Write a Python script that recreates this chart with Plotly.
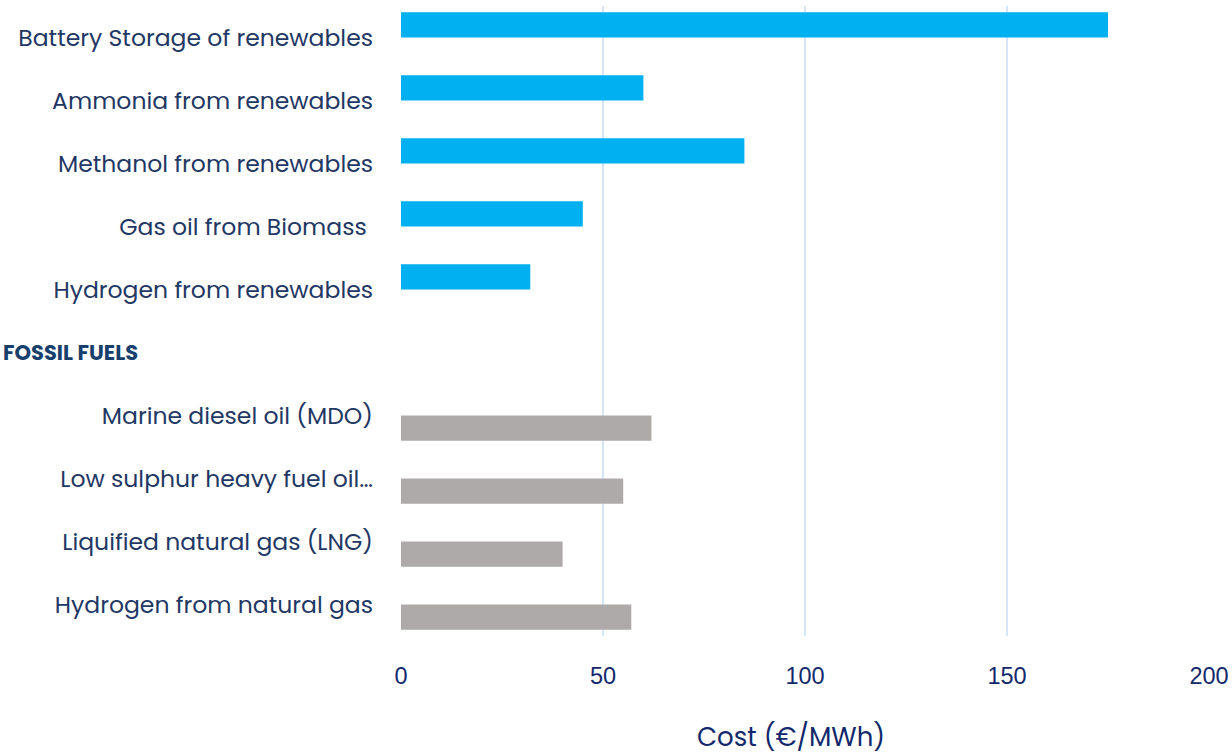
import plotly.graph_objects as go

categories = [
    "Battery Storage of renewables",
    "Ammonia from renewables",
    "Methanol from renewables",
    "Gas oil from Biomass\u00a0",
    "Hydrogen from renewables",
    " ",
    "Marine diesel oil (MDO)",
    "Low sulphur heavy fuel oil…",
    "Liquified natural gas (LNG)",
    "Hydrogen from natural gas",
]
renewable_costs = [175, 60, 85, 45, 32, None, None, None, None, None]
fossil_costs = [None, None, None, None, None, None, 62, 55, 40, 57]
x_ticks = [0, 50, 100, 150, 200]
group_label = "FOSSIL FUELS"
x_title = "Cost (€/MWh)"

W, H = 1232, 755
L, R, T, B = 401, 23, 6, 119
PW, PH = W - L - R, H - T - B

fig = go.Figure()
fig.add_trace(go.Bar(y=categories, x=renewable_costs, orientation="h",
                     marker=dict(color="#00B0F0", line=dict(width=0)),
                     name="Renewables", showlegend=False, hoverinfo="x+y"))
fig.add_trace(go.Bar(y=categories, x=fossil_costs, orientation="h",
                     marker=dict(color="#AEAAAA", line=dict(width=0)),
                     name="Fossil", showlegend=False, hoverinfo="x+y"))

fig.update_layout(
    width=W, height=H,
    margin=dict(l=L, r=R, t=T, b=B, pad=0, autoexpand=False),
    barmode="group", bargap=0.2, bargroupgap=0,
    plot_bgcolor="white", paper_bgcolor="white",
    font=dict(family="Poppins, Lato, sans-serif", color="#1F3864"),
    xaxis=dict(range=[0, 200], tickvals=x_ticks, showgrid=True,
               gridcolor="#D6E6F6", gridwidth=2, zeroline=False,
               showline=False, ticks="", automargin=False,
               tickfont=dict(family="Liberation Sans, Arial", size=23.5, color="#12296B"),
               ticklabelstandoff=23),
    yaxis=dict(categoryorder="array", categoryarray=categories,
               autorange="reversed", showgrid=False, showline=False,
               zeroline=False, ticks="", automargin=False,
               tickfont=dict(family="Poppins, Lato, sans-serif", size=23.5, color="#1F3864"),
               ticklabelstandoff=27),
)

fig.add_annotation(text="<b>" + group_label + "</b>", xref="paper", yref="y",
                   x=-(L - 1) / PW, y=categories[5], xanchor="left",
                   yanchor="middle", showarrow=False,
                   font=dict(family="Poppins, Lato, sans-serif", size=21, color="#17406D"))

fig.add_annotation(text=x_title, xref="paper", yref="paper",
                   x=(791 - L) / PW, y=-(737 - (T + PH)) / PH,
                   xanchor="center", yanchor="middle", showarrow=False,
                   font=dict(family="Poppins, Lato, sans-serif", size=26, color="#12296B"))

fig.write_html("out.html")
